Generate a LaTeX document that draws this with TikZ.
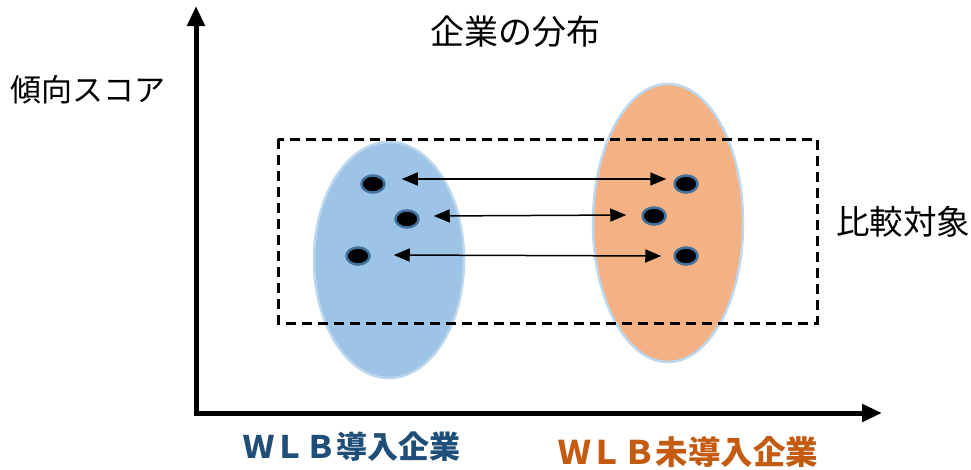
\documentclass[tikz,border=0pt]{standalone}
\usepackage{fontspec}
\newfontfamily\jp{Noto Sans CJK JP}
\usetikzlibrary{arrows.meta,shapes.geometric}
\definecolor{bluefill}{HTML}{9DC3E6}
\definecolor{blueedge}{HTML}{BDD7EE}
\definecolor{orangefill}{HTML}{F4B183}
\definecolor{dotedge}{HTML}{41719C}
\definecolor{darkblue}{HTML}{1F4E79}
\definecolor{darkorange}{HTML}{C55A11}
\tikzset{
  dotnode/.style={ellipse,fill=black,draw=dotedge,line width=2.5pt,minimum width=23pt,minimum height=17pt,inner sep=0pt},
  axis/.style={line width=5pt,-{Triangle[length=20pt,width=17pt]}},
  pairarrow/.style={line width=1.5pt,{Triangle[length=16pt,width=13pt]}-{Triangle[length=16pt,width=13pt]}},
  lbl/.style={font=\jp\fontsize{30}{36}\selectfont,inner sep=0pt}
}
\begin{document}
\begin{tikzpicture}[x=1pt,y=-1pt]
\useasboundingbox (0,0) rectangle (971,469);
% ellipses
\draw[fill=bluefill,draw=blueedge,line width=2.5pt] (389,260) ellipse [x radius=75,y radius=118];
\draw[fill=orangefill,draw=blueedge,line width=2.5pt] (668,223) ellipse [x radius=75,y radius=139];
% dashed box
\draw[line width=3pt,dash pattern=on 10pt off 6pt] (278,139) rectangle (817,323);
% axes
\coordinate (o) at (196,413);
\coordinate (ytop) at (196,6);
\coordinate (xend) at (882,413);
\draw[axis] ([yshift=-2.5pt]o) -- (ytop);
\draw[axis] ([xshift=-2.5pt]o) -- (xend);
% dots
\node[dotnode] (l1) at (373,184) {};
\node[dotnode] (l2) at (407,219) {};
\node[dotnode] (l3) at (358,256) {};
\node[dotnode] (r1) at (686,184) {};
\node[dotnode] (r2) at (654,216) {};
\node[dotnode] (r3) at (686,256) {};
% arrows
\draw[pairarrow] ([xshift=16pt,yshift=5pt]l1.east) -- ([xshift=-7pt,yshift=5pt]r1.west);
\draw[pairarrow] ([xshift=14pt,yshift=3pt]l2.east) -- ([xshift=-15pt,yshift=1pt]r2.west);
\draw[pairarrow] ([xshift=23pt,yshift=1pt]l3.east) -- ([xshift=-12pt]r3.west);
% labels
\node[lbl,font=\jp\fontsize{34}{40}\selectfont] (title) at (515,32) {企業の分布};
\node[lbl,anchor=west,font=\jp\fontsize{31}{36}\selectfont] (ylab) at (10,90) {傾向スコア};
\node[lbl,anchor=west,font=\jp\fontsize{33.5}{40}\selectfont] (cmp) at (836,222) {比較対象};
\node[lbl,anchor=west,text=darkblue,font=\jp\bfseries\fontsize{31}{36}\selectfont] (g1) at (243,447) {ＷＬＢ導入企業};
\node[lbl,anchor=west,text=darkorange,font=\jp\bfseries\fontsize{32.5}{40}\selectfont] (g2) at (558,452) {ＷＬＢ未導入企業};
\end{tikzpicture}
\end{document}
